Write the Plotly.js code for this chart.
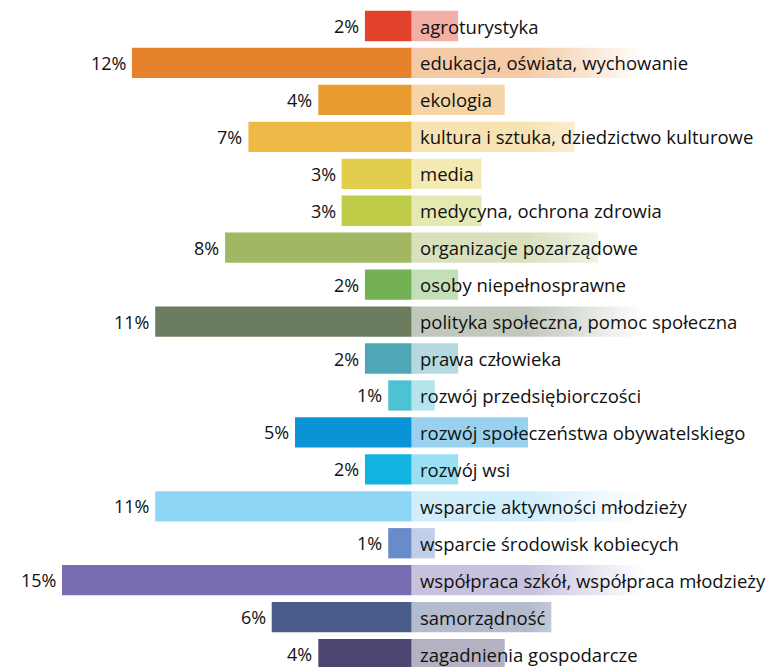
<!DOCTYPE html>
<html>
<head>
<meta charset="utf-8">
<script src="https://cdn.plot.ly/plotly-3.0.1.min.js"></script>
<style>
html,body{margin:0;padding:0;background:#fff;}
#chart{width:769px;height:667px;}
</style>
</head>
<body>
<div id="chart"></div>
<script>
const categories = [
  "agroturystyka",
  "edukacja, oświata, wychowanie",
  "ekologia",
  "kultura i sztuka, dziedzictwo kulturowe",
  "media",
  "medycyna, ochrona zdrowia",
  "organizacje pozarządowe",
  "osoby niepełnosprawne",
  "polityka społeczna, pomoc społeczna",
  "prawa człowieka",
  "rozwój przedsiębiorczości",
  "rozwój społeczeństwa obywatelskiego",
  "rozwój wsi",
  "wsparcie aktywności młodzieży",
  "wsparcie środowisk kobiecych",
  "współpraca szkół, współpraca młodzieży",
  "samorządność",
  "zagadnienia gospodarcze"
];
const values = [2, 12, 4, 7, 3, 3, 8, 2, 11, 2, 1, 5, 2, 11, 1, 15, 6, 4];
const valueLabels = ["2%","12%","4%","7%","3%","3%","8%","2%","11%","2%","1%","5%","2%","11%","1%","15%","6%","4%"];
const colors = [
  "#E2412B","#E6822B","#E89B2E","#EDBA48","#E3CD4C","#BFCC48",
  "#A2B761","#74B154","#6B7D5E","#4DA7B4","#4DC2D3","#0B93D8",
  "#10B4DF","#8ED6F5","#6A8BCB","#7A6CB0","#4A5D8A","#4D4670"
];

function rgba(hex, a) {
  const n = parseInt(hex.slice(1), 16);
  return `rgba(${(n>>16)&255},${(n>>8)&255},${n&255},${a})`;
}

const idx = categories.map((_, i) => i);
const halfH = 0.41;
const FONT = "Open Sans";

const traces = [];
// light mirrored label backgrounds, fading to the right
categories.forEach((c, i) => {
  const v = values[i];
  traces.push({
    type: "scatter",
    mode: "none",
    x: [0, v, v, 0, 0],
    y: [i - halfH, i - halfH, i + halfH, i + halfH, i - halfH],
    fill: "toself",
    fillgradient: {
      type: "horizontal",
      start: 0,
      stop: 10,
      colorscale: [[0, rgba(colors[i], 0.42)], [0.5, rgba(colors[i], 0.42)], [1, rgba(colors[i], 0)]]
    },
    hoverinfo: "skip",
    showlegend: false
  });
});

// main bars
traces.push({
  type: "bar",
  orientation: "h",
  x: values.map(v => -v),
  y: idx,
  marker: { color: colors },
  width: halfH * 2,
  hoverinfo: "skip",
  showlegend: false
});

const annotations = [];
categories.forEach((c, i) => {
  annotations.push({
    x: -values[i], y: i, xref: "x", yref: "y",
    text: valueLabels[i], showarrow: false,
    xanchor: "right", yanchor: "middle", xshift: -4,
    font: { family: FONT, size: 18, color: "#111111" }
  });
  annotations.push({
    x: 0, y: i, xref: "x", yref: "y",
    text: c, showarrow: false,
    xanchor: "left", yanchor: "middle", xshift: 6,
    font: { family: FONT, size: 18.5, color: "#111111" }
  });
});

const layout = {
  width: 769, height: 667,
  margin: { l: 0, r: 0, t: 0, b: 0 },
  paper_bgcolor: "#ffffff",
  plot_bgcolor: "#ffffff",
  showlegend: false,
  xaxis: { range: [-17.66, 15.34], visible: false, fixedrange: true },
  yaxis: { range: [17.35, -0.704], visible: false, fixedrange: true },
  annotations: annotations
};

Plotly.newPlot("chart", traces, layout, { staticPlot: true, displayModeBar: false });
</script>
</body>
</html>
